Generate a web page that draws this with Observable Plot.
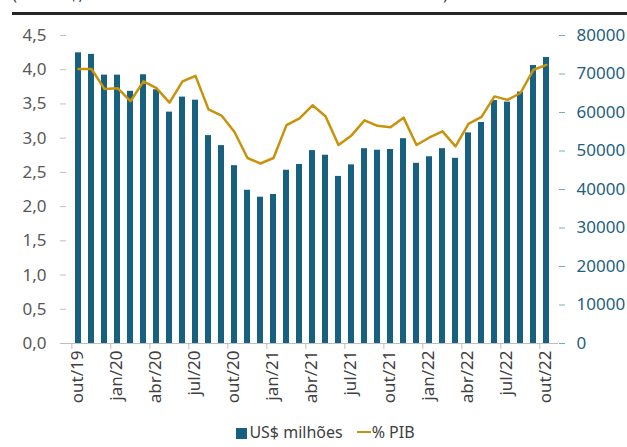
<!DOCTYPE html>
<html><head><meta charset="utf-8">
<script src="https://cdn.jsdelivr.net/npm/d3@7"></script>
<script src="https://cdn.jsdelivr.net/npm/@observablehq/plot@0.6"></script>
<style>
body{margin:0;background:#fff;font-family:"Noto Sans",sans-serif;}
#wrap{position:relative;width:627px;height:447px;overflow:hidden;}
#title{position:absolute;left:12px;top:-18px;font-size:17px;color:#404040;white-space:nowrap;}
#rule{position:absolute;left:12px;top:12px;width:615px;height:3px;background:#262626;}
#chart{position:absolute;left:0;top:0;}
#legend{position:absolute;top:421px;left:12px;width:627px;text-align:center;font-size:16px;color:#404040;white-space:nowrap;}
.sq{display:inline-block;width:11px;height:11px;background:#17607f;margin-right:2px;vertical-align:-1px;}
.ln{display:inline-block;width:14px;height:2.5px;background:#c8930a;margin:0 1px 0 14px;vertical-align:5px;}
</style></head>
<body>
<div id="wrap">
<div id="title">(em US$, milhões e % do PIB acumulado em 12 meses)</div>
<div id="rule"></div>
<div id="chart"></div>
<div id="legend"><span class="sq"></span>US$ milhões<span class="ln"></span>% PIB</div>
</div>
<script>
const months = ["out/19","nov/19","dez/19","jan/20","fev/20","mar/20","abr/20","mai/20","jun/20","jul/20","ago/20","set/20",
"out/20","nov/20","dez/20","jan/21","fev/21","mar/21","abr/21","mai/21","jun/21","jul/21","ago/21","set/21",
"out/21","nov/21","dez/21","jan/22","fev/22","mar/22","abr/22","mai/22","jun/22","jul/22","ago/22","set/22","out/22"];
const usd = [75500,75100,69700,69700,65500,69800,65900,60100,64000,63200,54000,51400,
46200,39800,38000,38700,45000,46500,50100,48900,43400,46400,50600,50200,
50400,53200,46800,48500,50600,48100,54700,57400,63100,62700,65300,72200,74300];
const pib = [4.01,4.01,3.72,3.73,3.54,3.83,3.73,3.52,3.83,3.91,3.42,3.33,
3.09,2.71,2.63,2.71,3.19,3.29,3.48,3.32,2.90,3.04,3.26,3.18,
3.16,3.30,2.90,3.01,3.10,2.88,3.21,3.31,3.61,3.56,3.66,4.00,4.07];
const xTicks = ["out/19","jan/20","abr/20","jul/20","out/20","jan/21","abr/21","jul/21","out/21","jan/22","abr/22","jul/22","out/22"];
const leftTicks = [0,0.5,1,1.5,2,2.5,3,3.5,4,4.5];
const rightTicks = [0,10000,20000,30000,40000,50000,60000,70000,80000];

const RMAX = 80000, LMAX = 4.5;
const data = months.map((m,i)=>({month:m, usd:usd[i], pib:pib[i]}));
const W = 627, ML = 66, MR = 69;
const step = (W-ML-MR)/months.length;

const chart = Plot.plot({
  width: W, height: 420,
  marginTop: 35, marginBottom: 77, marginLeft: ML, marginRight: MR,
  style: {fontFamily: "Noto Sans, sans-serif", background: "transparent"},
  x: {type: "band", domain: months, paddingInner: 0.52, paddingOuter: 0.26, label: null},
  y: {domain: [0, RMAX], label: null},
  marks: [
    Plot.barY(data, {x: "month", y: "usd", fill: "#17607f"}),
    Plot.ruleY([0], {stroke: "#bfbfbf"}),
    Plot.lineY(data, {x: "month", y: d => d.pib*RMAX/LMAX, stroke: "#c8930a", strokeWidth: 2.5}),
    Plot.axisY({anchor: "right", label: null, ticks: rightTicks, tickFormat: d => String(d), tickSize: 6, tickPadding: 12,
      fontSize: 17, fill: "#1f5f7f", stroke: "#7fa7bd", line: true}),
    Plot.axisY({anchor: "left", label: null, ticks: leftTicks.map(t => t*RMAX/LMAX),
      tickFormat: d => (d*LMAX/RMAX).toFixed(1).replace(".", ","), tickSize: 6, tickPadding: 14,
      fontSize: 17, fill: "#595959", stroke: "#bfbfbf", line: true}),
    Plot.axisX({anchor: "bottom", label: null, ticks: xTicks, tickSize: 0, tickRotate: -90, tickPadding: 7, dx: -1,
      fontSize: 17, fill: "#404040", tickFormat: d => d}),
    Plot.axisX({anchor: "bottom", label: null, ticks: xTicks, tickSize: 6, tickFormat: () => "", dx: -step/2, stroke: "#bfbfbf"})
  ]
});
document.getElementById("chart").appendChild(chart);
</script>
</body></html>
